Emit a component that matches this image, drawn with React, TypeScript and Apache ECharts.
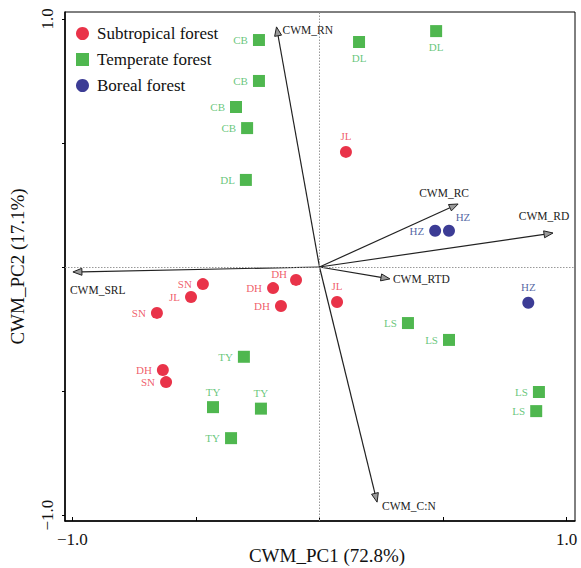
import React, { useEffect, useRef } from "react";
import * as echarts from "echarts";

// ---- Data ----
const subtropicalNames = ["JL", "DH", "DH", "DH", "SN", "JL", "SN", "DH", "SN", "JL"];
const subtropicalX = [0.107, -0.095, -0.188, -0.156, -0.472, -0.52, -0.658, -0.634, -0.621, 0.071];
const subtropicalY = [0.464, -0.052, -0.085, -0.157, -0.069, -0.121, -0.185, -0.415, -0.464, -0.141];
const subtropicalLabelPos = ["T", "DH1", "L", "L", "L", "L", "L", "L", "L", "T"];

const temperateNames = ["CB", "CB", "CB", "CB", "DL", "DL", "DL", "TY", "TY", "TY", "TY", "LS", "LS", "LS", "LS"];
const temperateX = [-0.245, -0.245, -0.338, -0.293, -0.298, 0.16, 0.472, -0.306, -0.431, -0.237, -0.358, 0.358, 0.524, 0.888, 0.877];
const temperateY = [0.915, 0.75, 0.645, 0.56, 0.351, 0.907, 0.951, -0.362, -0.565, -0.571, -0.69, -0.226, -0.294, -0.504, -0.581];
const temperateLabelPos = ["L", "L", "L", "L", "L", "B", "B", "L", "T", "T", "L", "L", "L", "L", "L"];

const borealNames = ["HZ", "HZ", "HZ"];
const borealX = [0.468, 0.524, 0.845];
const borealY = [0.146, 0.146, -0.144];
const borealLabelPos = ["L", "TR", "T"];

const arrowNames = ["CWM_RN", "CWM_RC", "CWM_RD", "CWM_RTD", "CWM_SRL", "CWM_C:N"];
const arrowX = [-0.174, 0.561, 0.945, 0.285, -0.998, 0.233];
const arrowY = [0.968, 0.254, 0.137, -0.048, -0.02, -0.948];

const xTickValues = [-1, -0.5, 0, 0.5, 1];
const yTickValues = [-1, -0.5, 0, 0.5, 1];
const labelValues = [-1, 1];

const xAxisName = "CWM_PC1 (72.8%)";
const yAxisName = "CWM_PC2 (17.1%)";
const groupNames = ["Subtropical forest", "Temperate forest", "Boreal forest"];

// ---- Styles ----
const FONT = "'Liberation Serif', 'Times New Roman', serif";
const RED = "#e3001c";
const GREEN = "#23a523";
const NAVY = "#0b0b7a";
const RED_LABEL = "#ec3545";
const GREEN_LABEL = "#3fb85a";
const NAVY_LABEL = "#2b3f8c";

function labelFor(pos: string) {
  switch (pos) {
    case "T":
      return { position: "top", distance: 4 };
    case "B":
      return { position: "bottom", distance: 4 };
    case "TR":
      return { position: "top", distance: 2, offset: [14, 0] };
    case "DH1":
      return { position: "left", distance: 3, offset: [0, -6] };
    default:
      return { position: "left", distance: 5 };
  }
}

function buildData(names: string[], xs: number[], ys: number[], pos: string[]) {
  return names.map((n, i) => ({
    name: n,
    value: [xs[i], ys[i]],
    label: labelFor(pos[i]),
  }));
}

const arrowLabelOffsets: Record<string, [number, number, string, string]> = {
  CWM_RN: [6, 3, "left", "middle"],
  CWM_RC: [-14, -11, "center", "middle"],
  CWM_RD: [-9, -17, "center", "middle"],
  CWM_RTD: [3, 0, "left", "middle"],
  CWM_SRL: [-3, 18, "left", "middle"],
  "CWM_C:N": [5, 4, "left", "middle"],
};

export default function App() {
  const ref = useRef<HTMLDivElement>(null);
  useEffect(() => {
    if (!ref.current) return;
    const chart = echarts.init(ref.current, null, { renderer: "svg" });
    const pointLabelBase = { show: true, fontFamily: FONT, fontSize: 11, formatter: "{b}" };

    const arrowData = arrowNames.map((n, i) => [arrowX[i], arrowY[i], i]);

    const option: any = {
      animation: false,
      backgroundColor: "#fff",
      grid: {
        left: 65,
        right: 6,
        top: 12,
        bottom: 47,
        containLabel: false,
        outerBoundsMode: "none",
        show: true,
        borderColor: "#000",
        borderWidth: 1,
      },
      legend: {
        orient: "vertical",
        left: 71,
        top: 20,
        itemWidth: 13,
        itemHeight: 13,
        itemGap: 9,
        textStyle: { fontFamily: FONT, fontSize: 17, color: "#111", padding: [0, 0, 0, 3] },
        data: [
          { name: groupNames[0], icon: "circle" },
          { name: groupNames[1], icon: "rect" },
          { name: groupNames[2], icon: "circle" },
        ],
      },
      xAxis: {
        type: "value",
        min: -1.03,
        max: 1.034,
        name: xAxisName,
        nameLocation: "middle",
        nameGap: 25,
        nameMoveOverlap: false,
        nameTextStyle: { fontFamily: FONT, fontSize: 19, color: "#111", padding: [0, 0, 0, 14] },
        axisLine: { show: true, onZero: false, lineStyle: { color: "#000", width: 1.5 } },
        axisTick: { show: true, inside: true, length: 4, customValues: xTickValues, lineStyle: { color: "#000" } },
        axisLabel: {
          customValues: labelValues,
          fontFamily: FONT,
          fontSize: 17,
          color: "#111",
          margin: 10,
          formatter: (v: number) => (v < 0 ? "\u22121.0" : "1.0"),
        },
        splitLine: { show: false },
      },
      yAxis: {
        type: "value",
        min: -1.024,
        max: 1.028,
        name: yAxisName,
        nameLocation: "middle",
        nameGap: 38,
        nameMoveOverlap: false,
        nameTextStyle: { fontFamily: FONT, fontSize: 19, color: "#111" },
        axisLine: { show: true, onZero: false, lineStyle: { color: "#000", width: 1.5 } },
        axisTick: { show: true, inside: false, length: 3, customValues: yTickValues, lineStyle: { color: "#000" } },
        axisLabel: {
          customValues: labelValues,
          rotate: 90,
          fontFamily: FONT,
          fontSize: 17,
          color: "#111",
          margin: 9,
          formatter: (v: number) => (v < 0 ? "\u22121.0" : "1.0"),
        },
        splitLine: { show: false },
      },
      series: [
        {
          type: "custom",
          name: "arrows",
          coordinateSystem: "cartesian2d",
          encode: { x: 0, y: 1 },
          silent: true,
          z: 3,
          data: arrowData,
          renderItem: (params: any, api: any) => {
            const o = api.coord([0, 0]);
            const t = api.coord([api.value(0), api.value(1)]);
            const idx = api.value(2);
            const name = arrowNames[idx];
            const dx = t[0] - o[0];
            const dy = t[1] - o[1];
            const len = Math.sqrt(dx * dx + dy * dy);
            const ux = dx / len;
            const uy = dy / len;
            const hl = 9;
            const hw = 3.5;
            const bx = t[0] - ux * hl;
            const by = t[1] - uy * hl;
            const px = -uy;
            const py = ux;
            const off = arrowLabelOffsets[name];
            return {
              type: "group",
              children: [
                {
                  type: "line",
                  shape: { x1: o[0], y1: o[1], x2: bx, y2: by },
                  style: { stroke: "#222", lineWidth: 1.2 },
                },
                {
                  type: "polygon",
                  shape: {
                    points: [
                      [t[0], t[1]],
                      [bx + px * hw, by + py * hw],
                      [bx - px * hw, by - py * hw],
                    ],
                  },
                  style: { fill: "#9a9a9a", stroke: "#222", lineWidth: 1 },
                },
                {
                  type: "text",
                  x: t[0] + off[0],
                  y: t[1] + off[1],
                  style: {
                    text: name,
                    fill: "#222",
                    font: `11.5px ${FONT}`,
                    align: off[2],
                    verticalAlign: off[3],
                  },
                },
              ],
            };
          },
        },
        {
          type: "scatter",
          name: groupNames[0],
          symbol: "circle",
          symbolSize: 12,
          z: 4,
          itemStyle: { color: RED },
          label: { ...pointLabelBase, color: RED_LABEL },
          data: buildData(subtropicalNames, subtropicalX, subtropicalY, subtropicalLabelPos),
          markLine: {
            silent: true,
            symbol: "none",
            label: { show: false },
            lineStyle: { color: "#999", type: [1.5, 1.5], width: 1 },
            data: [{ xAxis: 0 }, { yAxis: 0 }],
          },
        },
        {
          type: "scatter",
          name: groupNames[1],
          symbol: "rect",
          symbolSize: 12,
          z: 4,
          itemStyle: { color: GREEN },
          label: { ...pointLabelBase, color: GREEN_LABEL },
          data: buildData(temperateNames, temperateX, temperateY, temperateLabelPos),
        },
        {
          type: "scatter",
          name: groupNames[2],
          symbol: "circle",
          symbolSize: 12,
          z: 4,
          itemStyle: { color: NAVY },
          label: { ...pointLabelBase, color: NAVY_LABEL },
          data: buildData(borealNames, borealX, borealY, borealLabelPos),
        },
      ],
    };
    chart.setOption(option);
    return () => chart.dispose();
  }, []);
  return <div ref={ref} style={{ width: 581, height: 568, position: "absolute", left: 0, top: 0 }} />;
}
